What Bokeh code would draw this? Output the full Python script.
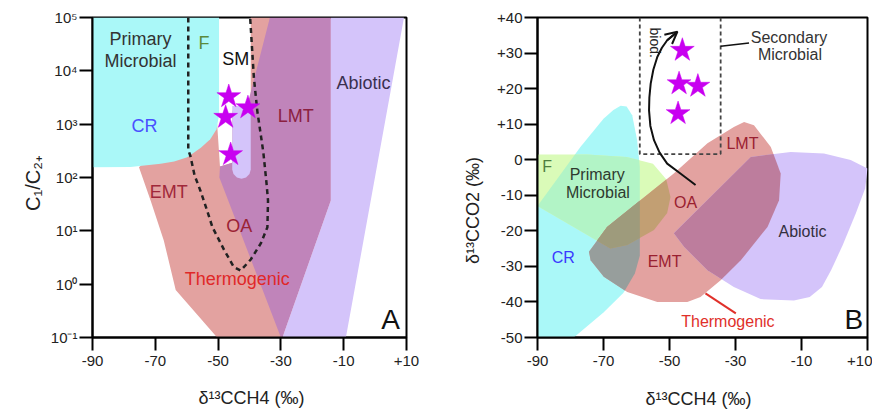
import math
from bokeh.plotting import figure
from bokeh.layouts import row
from bokeh.models import (Range1d, FixedTicker, CustomJSTickFormatter, Label,
                          Arrow, OpenHead, ColumnDataSource)
from bokeh.core.properties import value
from bokeh.embed import file_html
from bokeh.resources import INLINE

FONT = "Liberation Sans"

# ---------------- shared axis data ----------------
x_ticks = [-90, -70, -50, -30, -10, 10]
x_tick_labels = ["-90", "-70", "-50", "-30", "-10", "+10"]
x_title = "δ¹³CCH4 (‰)"

# ---------------- Panel A data ----------------
a_y_title = "C₁/C₂₊"
a_y_ticks = [0.1, 1, 10, 100, 1000, 10000, 100000]
a_y_tick_labels = ["10⁻¹", "10⁰", "10¹", "10²", "10³", "10⁴", "10⁵"]

a_cr_x = [-90, -49.7, -49.7, -50.5, -52.5, -55.5, -59.8, -64, -68.3, -77.9, -90]
a_cr_y = [1e5, 1e5, 1500, 800, 520, 360, 240, 200, 182, 158, 155]

a_th_x = [-39.6, -33.5, -30, -50.3, -63.5, -67.3, -71.5, -75.2, -70, -50.3, -49.4, -45.5, -45.5, -39.6]
a_th_y = [1e5, 1e5, 0.1, 0.1, 0.78, 6.6, 37, 155, 300, 1000, 160, 190, 1800, 1800]

a_ab_x = [-14.1, 9.2, -9.3, -29.5, -14.1]
a_ab_y = [1e5, 1e5, 0.1, 0.1, 37]

a_lmt_x = [-33.5, -14.1, -14.1, -29.5, -30, -49.6, -49.4, -45.5, -39.6]
a_lmt_y = [1e5, 1e5, 37, 0.1, 0.1, 100, 160, 190, 4000]

a_cap_x = [-45.5, -39.6, -39.6, -40.0, -41.1, -42.55, -44.0, -45.1, -45.5]
a_cap_y = [2200, 2200, 141, 116, 100, 95, 100, 116, 141]

a_dash_x = [-59.5, -59.5, -58.8, -57.5, -55.6, -53.6, -51.8, -48.1, -45.0, -42.8,
            -39.6, -36.4, -34.3, -34.1, -34.6, -35.6, -37.5, -38.6, -39.8]
a_dash_y = [1e5, 330, 250, 110, 56, 25, 11.7, 4.4, 2.1, 1.8,
            2.9, 5.8, 11.7, 37, 80, 300, 1740, 7400, 1e5]

a_star_x = [-46.6, -47.6, -40.5, -46.0]
a_star_y = [3300, 1350, 2040, 270]

a_lbl_text = ["Primary", "Microbial", "F", "SM", "CR", "EMT", "LMT", "OA", "Thermogenic", "Abiotic"]
a_lbl_x = [-74.7, -74.7, -54.5, -44.4, -73.4, -65.7, -25.3, -43.3, -43.9, -3.7]
a_lbl_y = [39800, 15500, 33100, 17000, 933, 52.5, 1410, 12.3, 1.23, 6030]
a_lbl_color = ["#333333", "#333333", "#5b8a3c", "#111111", "#4a50ff", "#a0283a",
               "#8b2040", "#9b2335", "#e02828", "#3a3050"]

# ---------------- Panel B data ----------------
b_y_title = "δ¹³CCO2 (‰)"
b_y_ticks = [-50, -40, -30, -20, -10, 0, 10, 20, 30, 40]
b_y_tick_labels = ["-50", "-40", "-30", "-20", "-10", "0", "+10", "+20", "+30", "+40"]

b_cr_x = [-90, -79, -70, -64, -60.5, -59, -59, -59.8, -61.3, -63, -64.8, -67, -70, -77, -90]
b_cr_y = [-50, -50, -43, -37.5, -32, -27, -2, 5.5, 12.5, 15, 15.2, 14, 11.5, 3.6, -13]

b_pm_x = [-90, -75, -63, -55, -51, -49.7, -50.7, -54.7, -62.8, -67.9, -90]
b_pm_y = [1.5, 1.5, 0.8, -1.1, -5.5, -10.5, -15, -19.8, -24, -25, -13]

b_th_x = [-74.4, -68.9, -58.8, -48.7, -38.5, -30.5, -27.4, -24.4, -19.3, -16.3, -16.8,
          -20.3, -28.4, -34.5, -40.6, -44.6, -53.7, -62.8, -69.9, -73.9]
b_th_y = [-25.9, -18.9, -11.4, -3.9, 4.6, 9.2, 10.6, 9.7, 3.6, -3.9, -11.4,
          -18.9, -28.3, -33.9, -38.6, -40, -40, -37.2, -32.9, -28.3]

b_ab_x = [-48.7, -25.4, -13.3, -3.2, 4.9, 10, 9.3, 6.5, 2.5, -1, -3.8, -7.5, -12.3, -22.4, -30.5, -38.5, -45.6]
b_ab_y = [-20.7, 0.8, 2.2, 1.75, -0.1, -2.5, -8, -15, -24, -31, -35.8, -38.6, -39.6, -39.2, -35.8, -31.1, -24.5]

b_box_x = [-59, -59, -34.5, -34.5]
b_box_y = [40, 1.6, 1.6, 40]

b_arrow_x = [-42.1, -46.5, -50.7, -53.0, -54.7, -55.8, -56.2, -56.1, -55.7, -54.9, -53.7, -52.3, -50.7, -47.6]
b_arrow_y = [-7.1, -4.0, -1.1, 2.0, 5.5, 9.5, 13.9, 17.5, 21.4, 25.3, 28.9, 31.5, 33.6, 36.0]

b_star_x = [-46.1, -47.1, -41.4, -47.4]
b_star_y = [30.8, 21.4, 20.7, 13.0]

b_lbl_text = ["Secondary", "Microbial", "F", "Primary", "Microbial", "OA", "LMT",
              "Abiotic", "CR", "EMT", "Thermogenic"]
b_lbl_x = [-13.8, -13.5, -87.1, -71.9, -71.7, -45.1, -27.9, -9.7, -82.2, -51.5, -32.3]
b_lbl_y = [34.4, 29.7, -2.0, -4.1, -9.2, -11.9, 4.7, -20.1, -27.5, -28.5, -45.6]
b_lbl_color = ["#333333", "#333333", "#4f7f3f", "#2f3a2f", "#2f3a2f", "#9a2030", "#9a2030",
               "#333040", "#3a3aff", "#9a2030", "#e0302a"]

b_sm_leader_x = [-34.5, -25.9]
b_sm_leader_y = [31.9, 32.8]
b_th_leader_x = [-39.1, -29.9]
b_th_leader_y = [-37.6, -43.2]

# ---------------- colours ----------------
CYAN = "#aaf8f8"
GREEN = "#dafbb8"
GREEN_ON_CYAN = "#b2f4c6"
SALMON = "#e3a2a0"
LAV = "#d4c4fa"
MAUVE_A = "#c084ba"
STAR = "#c800f0"


def hex2rgb(h):
    h = h.lstrip("#")
    return [int(h[i:i + 2], 16) for i in (0, 2, 4)]


def mult(*cols):
    r = [255, 255, 255]
    for c in cols:
        r = [a * b / 255 for a, b in zip(r, hex2rgb(c))]
    return "#%02x%02x%02x" % tuple(int(round(v)) for v in r)


def poly_area(pts):
    s = 0
    for i in range(len(pts)):
        x1, y1 = pts[i]
        x2, y2 = pts[(i + 1) % len(pts)]
        s += x1 * y2 - x2 * y1
    return s / 2


def clip(subject, clipper):
    """Sutherland-Hodgman: part of `subject` inside the convex `clipper` (overlap of two zones)."""
    sign = 1 if poly_area(clipper) > 0 else -1

    def inside(p, a, b):
        return sign * ((b[0] - a[0]) * (p[1] - a[1]) - (b[1] - a[1]) * (p[0] - a[0])) >= 0

    def inter(p, q, a, b):
        x1, y1 = p; x2, y2 = q; x3, y3 = a; x4, y4 = b
        den = (x1 - x2) * (y3 - y4) - (y1 - y2) * (x3 - x4)
        if den == 0:
            return q
        t = ((x1 - x3) * (y3 - y4) - (y1 - y3) * (x3 - x4)) / den
        return (x1 + t * (x2 - x1), y1 + t * (y2 - y1))

    out = list(subject)
    n = len(clipper)
    for i in range(n):
        a, b = clipper[i], clipper[(i + 1) % n]
        inp, out = out, []
        if not inp:
            break
        s = inp[-1]
        for e in inp:
            if inside(e, a, b):
                if not inside(s, a, b):
                    out.append(inter(s, e, a, b))
                out.append(e)
            elif inside(s, a, b):
                out.append(inter(s, e, a, b))
            s = e
    return out


def style(p):
    p.outline_line_color = "black"
    p.outline_line_width = 2
    p.outline_line_alpha = 1
    p.grid.visible = False
    for ax in p.axis:
        ax.axis_line_width = 2
        ax.major_tick_line_width = 2
        ax.major_tick_out = 13
        ax.major_tick_in = 0
        ax.minor_tick_out = 0
        ax.minor_tick_in = 0
        ax.major_label_text_font = FONT
        ax.major_label_text_font_size = "15px"
        ax.major_label_text_color = "#222222"
    p.xaxis.major_label_standoff = 5
    p.yaxis.major_label_standoff = 2
    p.xaxis.ticker = FixedTicker(ticks=x_ticks)
    p.xaxis.major_label_overrides = dict(zip(x_ticks, x_tick_labels))


def side_label(p, side, x, y, text, size, align="center", angle=0):
    # labels live in a side panel so that they are not clipped to the frame
    p.add_layout(Label(x=x, y=y, text=text, text_font=FONT, text_font_size=size,
                       text_align=align, text_baseline="alphabetic",
                       angle=angle, text_color="#222222"), side)


# ================= Panel A =================
pA = figure(width=440, height=412, x_range=Range1d(-90, 10), y_range=Range1d(0.1, 1e5),
            y_axis_type="log", output_backend="svg", toolbar_location=None,
            min_border_left=92, min_border_right=34, min_border_top=16, min_border_bottom=74)
style(pA)
pA.yaxis.ticker = FixedTicker(ticks=a_y_ticks)
pA.yaxis.formatter = CustomJSTickFormatter(args=dict(tv=a_y_ticks, tl=a_y_tick_labels), code="""
let best = 0, bd = Infinity;
for (let i = 0; i < tv.length; i++) {
  const d = Math.abs(Math.log10(tick) - Math.log10(tv[i]));
  if (d < bd) { bd = d; best = i; }
}
return tl[best];
""")

pA.patch(a_th_x, a_th_y, fill_color=SALMON, line_color=None)
pA.patch(a_cr_x, a_cr_y, fill_color=CYAN, line_color=None)
pA.patch(a_ab_x, a_ab_y, fill_color=LAV, line_color=None)
pA.patch(a_lmt_x, a_lmt_y, fill_color=MAUVE_A, line_color=None)
pA.patch(a_cap_x, a_cap_y, fill_color=LAV, line_color=None)
pA.line(a_dash_x, a_dash_y, line_dash="5 4", line_width=2.5, line_color="#222222")
pA.scatter(a_star_x, a_star_y, marker="star", size=25, fill_color=STAR, line_color=STAR, line_width=0.5)

srcA = ColumnDataSource(dict(x=a_lbl_x, y=a_lbl_y, text=a_lbl_text, color=a_lbl_color))
pA.text(x="x", y="y", text="text", text_color="color", source=srcA, text_font=value(FONT),
        text_font_size=value("18px"), text_align="center", text_baseline="middle")
pA.text(x=[4.9], y=[0.217], text=["A"], text_font=value(FONT), text_font_size=value("28px"),
        text_align="center", text_baseline="middle", text_color="#111111")

side_label(pA, "below", -39.4, 10 ** -2.136, x_title, "18px")
side_label(pA, "left", -109.1, 79, a_y_title, "20px", angle=math.pi / 2)

# ================= Panel B =================
pB = figure(width=432, height=412, x_range=Range1d(-90, 10), y_range=Range1d(-50, 40),
            output_backend="svg", toolbar_location=None,
            min_border_left=97, min_border_right=5, min_border_top=17, min_border_bottom=75)
style(pB)
pB.yaxis.ticker = FixedTicker(ticks=b_y_ticks)
pB.yaxis.major_label_overrides = dict(zip(b_y_ticks, b_y_tick_labels))

cr = list(zip(b_cr_x, b_cr_y))
pm = list(zip(b_pm_x, b_pm_y))
th = list(zip(b_th_x, b_th_y))
ab = list(zip(b_ab_x, b_ab_y))


def draw(p, pts, color):
    if len(pts) >= 3:
        p.patch([q[0] for q in pts], [q[1] for q in pts], fill_color=color, line_color=None)


draw(pB, cr, CYAN)
draw(pB, pm, GREEN)
draw(pB, clip(pm, cr), GREEN_ON_CYAN)
draw(pB, th, SALMON)
draw(pB, clip(th, cr), mult(SALMON, CYAN))
th_pm = clip(th, pm)
draw(pB, th_pm, mult(SALMON, GREEN))
draw(pB, clip(th_pm, cr), mult(SALMON, GREEN_ON_CYAN))
draw(pB, ab, LAV)
draw(pB, clip(th, ab), mult(SALMON, LAV))

pB.line(b_box_x, b_box_y, line_dash="4 3", line_width=1.8, line_color="#444444")
pB.line(b_arrow_x, b_arrow_y, line_width=2, line_color="#111111")
pB.add_layout(Arrow(end=OpenHead(size=12, line_width=2, line_color="#111111"),
                    x_start=b_arrow_x[-2], y_start=b_arrow_y[-2],
                    x_end=b_arrow_x[-1], y_end=b_arrow_y[-1],
                    line_width=2, line_color="#111111"))
pB.line(b_sm_leader_x, b_sm_leader_y, line_width=1.5, line_color="#111111")
pB.line(b_th_leader_x, b_th_leader_y, line_width=2, line_color="#e0302a")
pB.scatter(b_star_x, b_star_y, marker="star", size=25, fill_color=STAR, line_color=STAR, line_width=0.5)

srcB = ColumnDataSource(dict(x=b_lbl_x, y=b_lbl_y, text=b_lbl_text, color=b_lbl_color))
pB.text(x="x", y="y", text="text", text_color="color", source=srcB, text_font=value(FONT),
        text_font_size=value("16px"), text_align="center", text_baseline="middle")
pB.text(x=[-54.5], y=[32.9], text=["biod."], angle=-math.pi / 2, text_font=value(FONT),
        text_font_size=value("14px"), text_align="center", text_baseline="middle",
        text_color="#222222")
pB.text(x=[5.85], y=[-45.0], text=["B"], text_font=value(FONT), text_font_size=value("28px"),
        text_align="center", text_baseline="middle", text_color="#111111")

side_label(pB, "below", -41.2, -67.4, x_title, "18px")
side_label(pB, "left", -109.4, -14.3, b_y_title, "18px", angle=math.pi / 2)

layout = row(pA, pB)
open("out.html", "w").write(file_html(layout, INLINE))
